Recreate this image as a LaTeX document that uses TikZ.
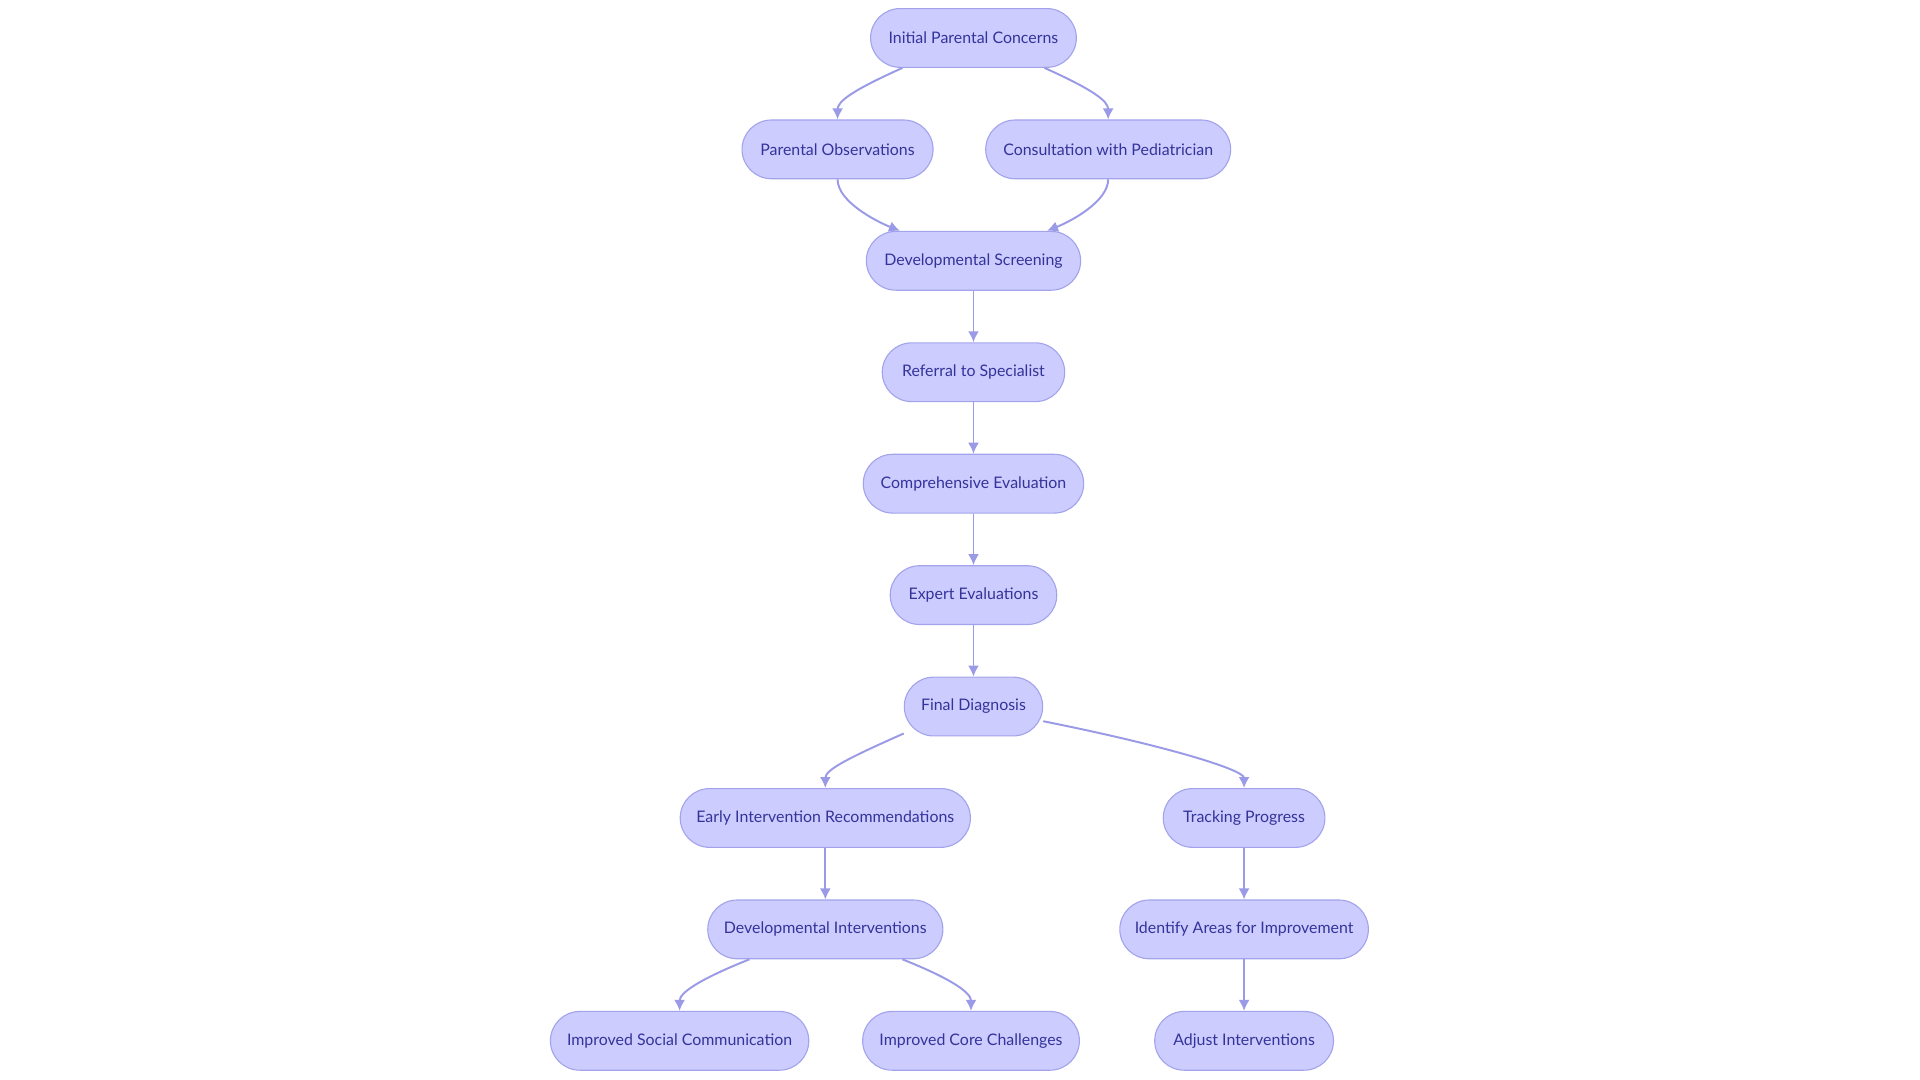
\documentclass[tikz,border=0pt]{standalone}
\usepackage{fontspec}
\setmainfont{Lato}
\usetikzlibrary{arrows.meta}
\definecolor{nfill}{HTML}{CCCCFF}
\definecolor{nborder}{HTML}{A3A3EC}
\definecolor{ntext}{HTML}{33339A}
\definecolor{edge}{HTML}{9A9AE6}
\tikzset{
 box/.style={draw=nborder,fill=nfill,line width=0.9pt,rounded corners=24pt,minimum height=48pt,inner sep=0pt,text=ntext,font=\fontsize{13}{15}\selectfont},
 conn/.style={draw=edge,line width=1.6pt,-{Latex[length=9pt,width=9pt]}}
}
\begin{document}
\begin{tikzpicture}[x=1pt,y=-1pt]
\useasboundingbox (0,0) rectangle (1568,882);
\node[box,minimum width=168pt] (i) at (795,31) {Initial Parental Concerns};
\node[box,minimum width=156pt] (po) at (684,122) {Parental Observations};
\node[box,minimum width=200pt] (cp) at (905,122) {Consultation with Pediatrician};
\node[box,minimum width=175pt] (ds) at (795,213) {Developmental Screening};
\node[box,minimum width=149pt] (rs) at (795,304) {Referral to Specialist};
\node[box,minimum width=180pt] (ce) at (795,395) {Comprehensive Evaluation};
\node[box,minimum width=136pt] (ee) at (795,486) {Expert Evaluations};
\node[box,minimum width=113pt] (fd) at (795,577) {Final Diagnosis};
\node[box,minimum width=237pt] (ei) at (674,668) {Early Intervention Recommendations};
\node[box,minimum width=132pt] (tp) at (1016,668) {Tracking Progress};
\node[box,minimum width=192pt] (di) at (674,759) {Developmental Interventions};
\node[box,minimum width=203pt] (ia) at (1016,759) {Identify Areas for Improvement};
\node[box,minimum width=211pt] (sc) at (555,850) {Improved Social Communication};
\node[box,minimum width=177pt] (cc) at (793,850) {Improved Core Challenges};
\node[box,minimum width=146pt] (ai) at (1016,850) {Adjust Interventions};
\draw[conn] ([xshift=-58pt]i.south) .. controls +(-40,18) and +(0,-15) .. (po.north);
\draw[conn] ([xshift=58pt]i.south) .. controls +(40,18) and +(0,-15) .. (cp.north);
\draw[conn] (po.south) .. controls +(0,18) and +(-20,-8) .. ([xshift=-60pt]ds.north);
\draw[conn] (cp.south) .. controls +(0,18) and +(20,-8) .. ([xshift=60pt]ds.north);
\draw[conn] (ds) -- (rs);
\draw[conn] (rs) -- (ce);
\draw[conn] (ce) -- (ee);
\draw[conn] (ee) -- (fd);
\draw[conn] ([yshift=-22pt]fd.west) .. controls +(-45,20) and +(0,-15) .. (ei.north);
\draw[conn] ([yshift=-12pt]fd.east) .. controls +(100,20) and +(0,-15) .. (tp.north);
\draw[conn] (ei) -- (di);
\draw[conn] ([xshift=-62pt]di.south) .. controls +(-40,16) and +(0,-15) .. (sc.north);
\draw[conn] ([xshift=63pt]di.south) .. controls +(40,16) and +(0,-15) .. (cc.north);
\draw[conn] (tp) -- (ia);
\draw[conn] (ia) -- (ai);
\end{tikzpicture}
\end{document}
